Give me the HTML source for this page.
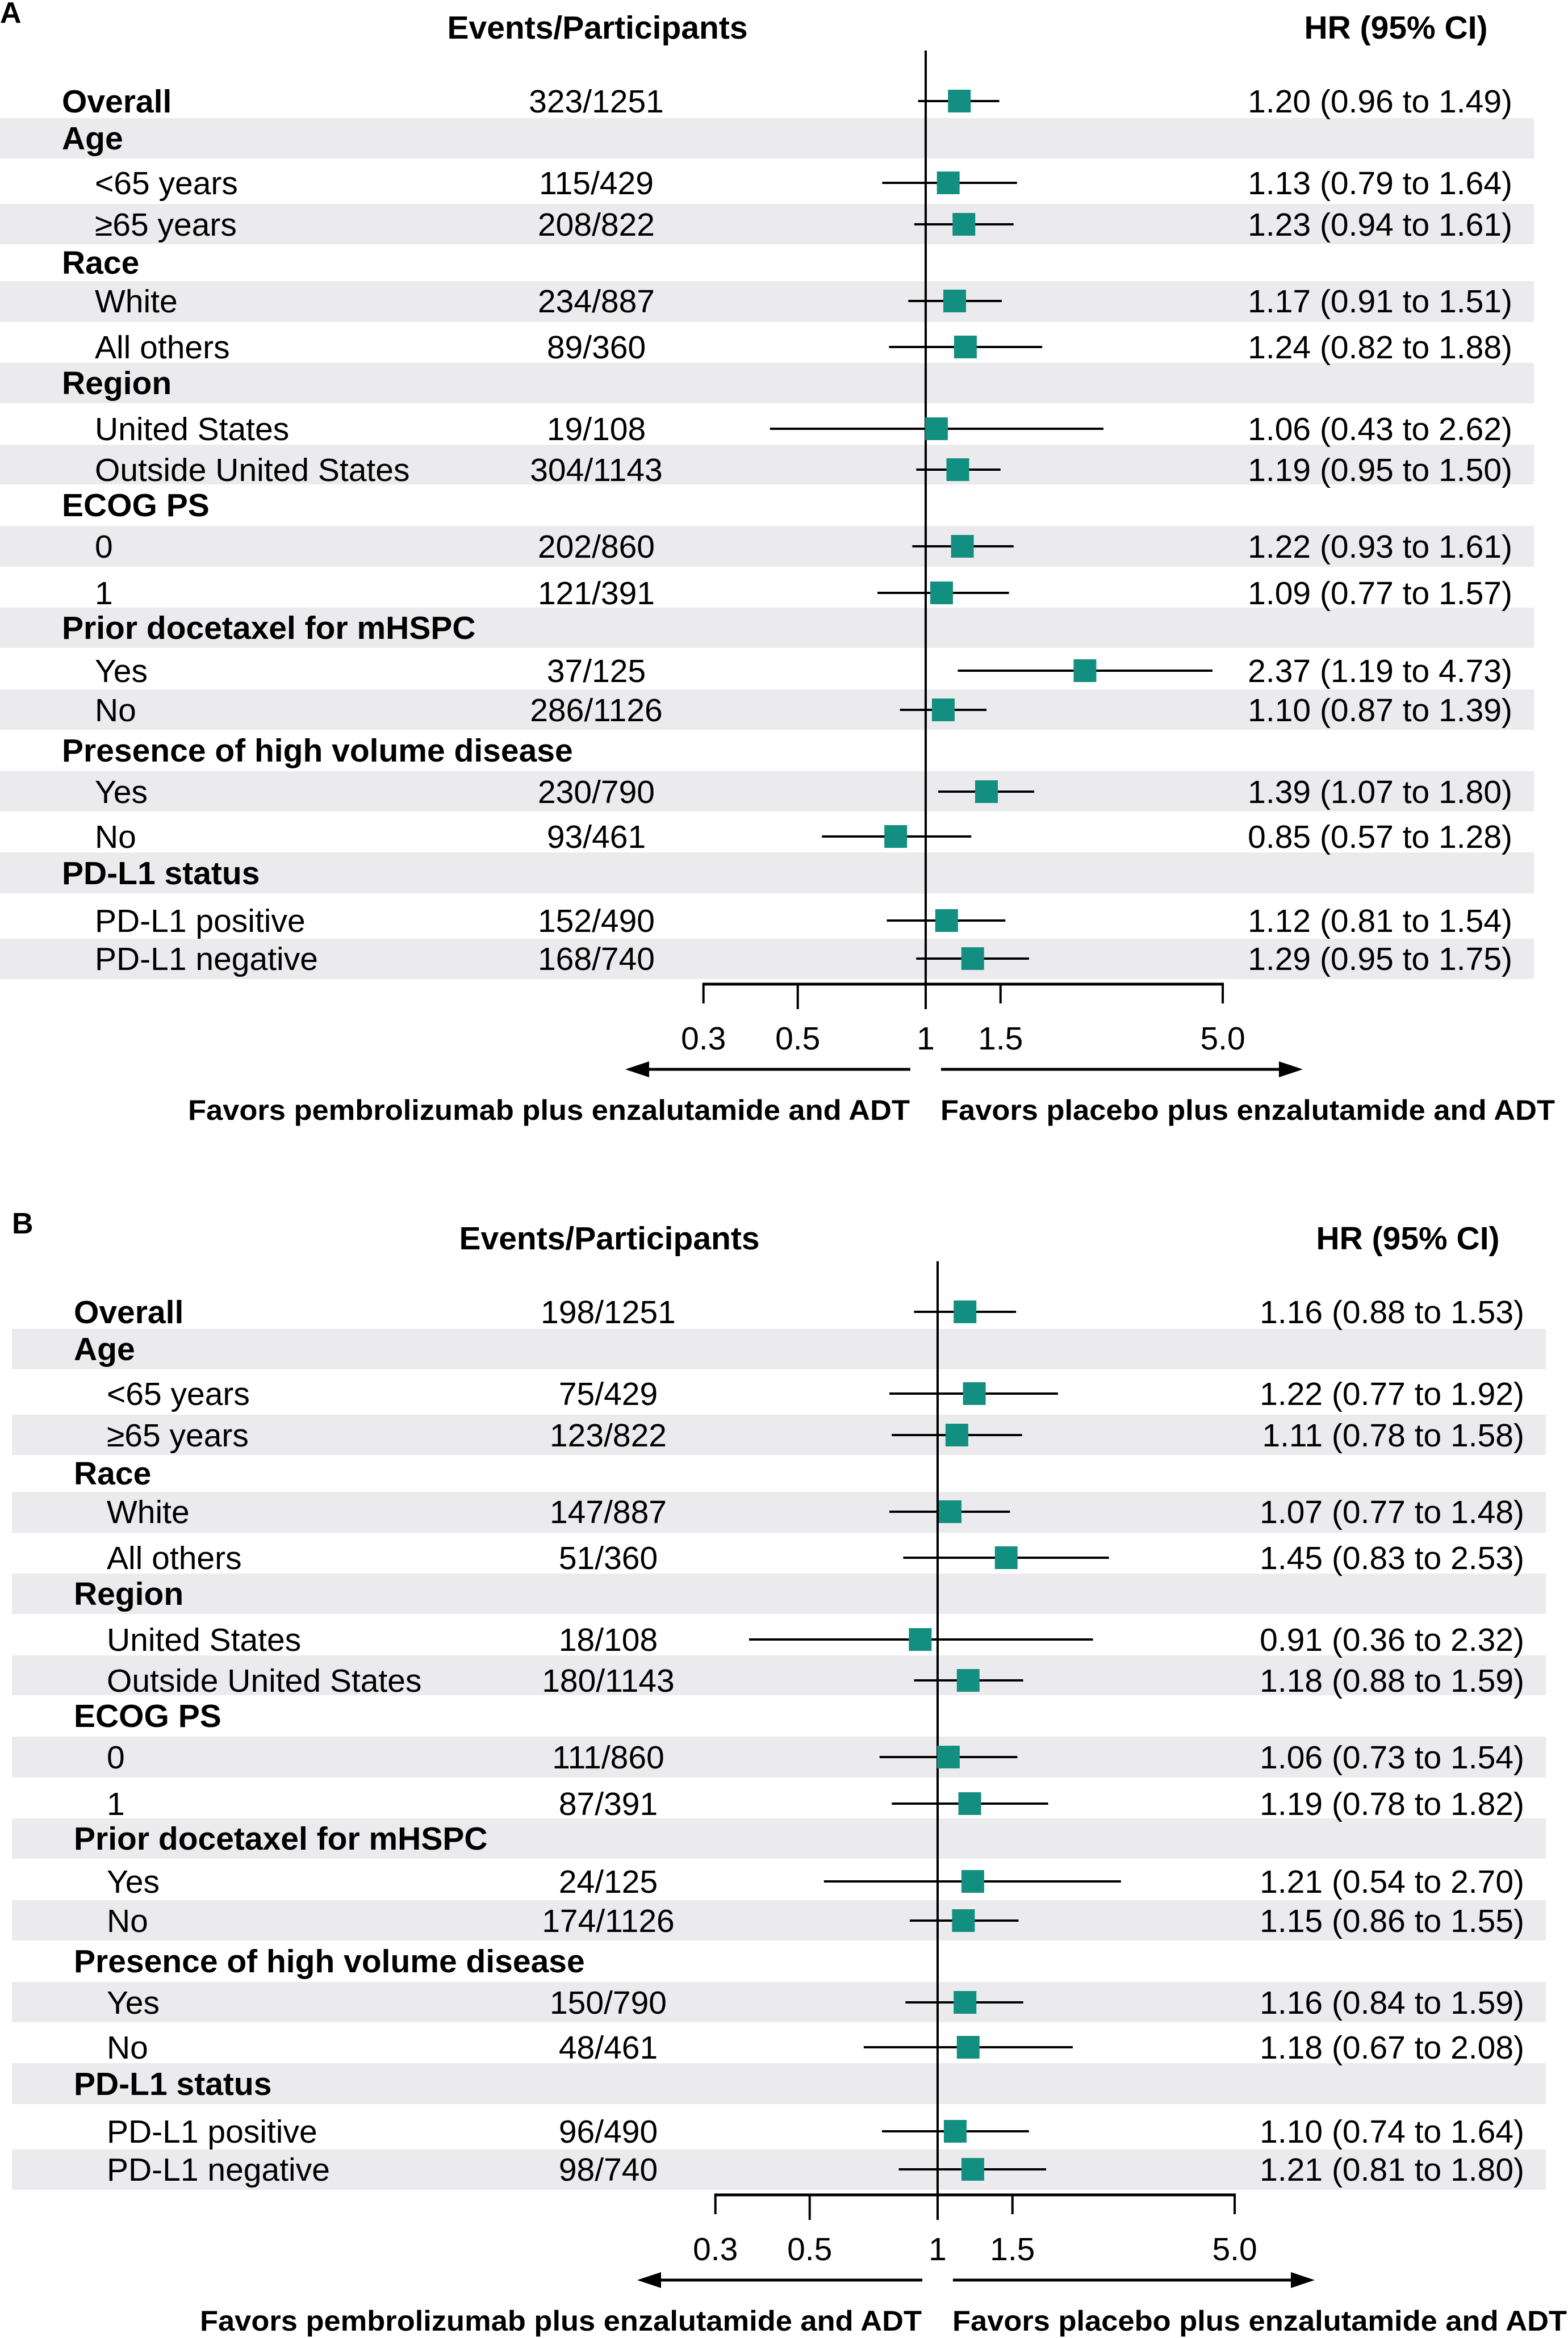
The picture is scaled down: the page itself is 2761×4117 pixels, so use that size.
<!DOCTYPE html>
<html><head><meta charset="utf-8"><style>
html,body{margin:0;padding:0;background:#fff;}
svg{display:block;font-family:"Liberation Sans",Arial,sans-serif;}
</style></head><body>
<svg id="fig" width="2761" height="4117" viewBox="0 0 2761 4117" xmlns="http://www.w3.org/2000/svg"></svg>
<script>
// ---- data ----
const rowLabels = ["Overall","Age","<65 years","\u226565 years","Race","White","All others","Region","United States","Outside United States","ECOG PS","0","1","Prior docetaxel for mHSPC","Yes","No","Presence of high volume disease","Yes","No","PD-L1 status","PD-L1 positive","PD-L1 negative"];
const rowIsHeader = [1,1,0,0,1,0,0,1,0,0,1,0,0,1,0,0,1,0,0,1,0,0];
const eventsA = ["323/1251","","115/429","208/822","","234/887","89/360","","19/108","304/1143","","202/860","121/391","","37/125","286/1126","","230/790","93/461","","152/490","168/740"];
const hrA = [1.20,null,1.13,1.23,null,1.17,1.24,null,1.06,1.19,null,1.22,1.09,null,2.37,1.10,null,1.39,0.85,null,1.12,1.29];
const loA = [0.96,null,0.79,0.94,null,0.91,0.82,null,0.43,0.95,null,0.93,0.77,null,1.19,0.87,null,1.07,0.57,null,0.81,0.95];
const hiA = [1.49,null,1.64,1.61,null,1.51,1.88,null,2.62,1.50,null,1.61,1.57,null,4.73,1.39,null,1.80,1.28,null,1.54,1.75];
const eventsB = ["198/1251","","75/429","123/822","","147/887","51/360","","18/108","180/1143","","111/860","87/391","","24/125","174/1126","","150/790","48/461","","96/490","98/740"];
const hrB = [1.16,null,1.22,1.11,null,1.07,1.45,null,0.91,1.18,null,1.06,1.19,null,1.21,1.15,null,1.16,1.18,null,1.10,1.21];
const loB = [0.88,null,0.77,0.78,null,0.77,0.83,null,0.36,0.88,null,0.73,0.78,null,0.54,0.86,null,0.84,0.67,null,0.74,0.81];
const hiB = [1.53,null,1.92,1.58,null,1.48,2.53,null,2.32,1.59,null,1.54,1.82,null,2.70,1.55,null,1.59,2.08,null,1.64,1.80];
const tickValues = [0.3,0.5,1,1.5,5.0];
const tickLabels = ["0.3","0.5","1","1.5","5.0"];

// ---- layout ----
const rowY = [178,243,322,395,462,530,611,674,755,827,889,962,1044,1105,1181,1250,1321,1394,1473,1537,1621,1688];
const bounds = [89,208,279,359,430,495,567,639,710,783,853,926,998,1070,1141,1214,1285,1358,1429,1501,1573,1653,1724];
const NS="http://www.w3.org/2000/svg";
const svg=document.getElementById('fig');
function mk(tag,attrs,parent){const e=document.createElementNS(NS,tag);for(const k in attrs)e.setAttribute(k,attrs[k]);(parent||svg).appendChild(e);return e;}
function fmt(v){return v.toFixed(2);}

function panel(letter,dx,dy,events,hr,lo,hi){
  const g=mk('g',{transform:`translate(${dx},${dy})`});
  
  
  const x1=1630, k=325;
  const xs=v=>x1+k*Math.log(v);
  // bands
  for(let i=1;i<rowY.length;i+=2){
    const r=mk('rect',{x:0,y:bounds[i],width:2701,height:bounds[i+1]-bounds[i],fill:'#ebebed'},g);
    
    
  }
  let t=mk('text',{x:0,y:40,'font-size':52,'font-weight':'bold'},g); t.textContent=letter;
  
  
  t=mk('text',{x:1052,y:68,'font-size':57,'font-weight':'bold','text-anchor':'middle'},g); t.textContent='Events/Participants';
  
  
  t=mk('text',{x:2458,y:68,'font-size':57,'font-weight':'bold','text-anchor':'middle'},g); t.textContent='HR (95% CI)';
  
  
  // reference line
  let l=mk('line',{x1:x1,x2:x1,y1:89,y2:1777,stroke:'#000','stroke-width':4},g);
  
  
  for(let i=0;i<rowLabels.length;i++){
    const y=rowY[i];
    t=mk('text',{x:rowIsHeader[i]?109:167,y:y+20,'font-size':57,'font-weight':rowIsHeader[i]?'bold':'normal'},g);
    t.textContent=rowLabels[i];
    
    
    if(events[i]){
      t=mk('text',{x:1050,y:y+20,'font-size':57,'text-anchor':'middle'},g); t.textContent=events[i];
      
      
    }
    if(hr[i]!=null){
      t=mk('text',{x:2663,y:y+20,'font-size':57,'text-anchor':'end'},g);
      t.textContent=`${fmt(hr[i])} (${fmt(lo[i])} to ${fmt(hi[i])})`;
      
      
      l=mk('line',{x1:xs(lo[i]),x2:xs(hi[i]),y1:y,y2:y,stroke:'#000','stroke-width':4},g);
      
      
      const r=mk('rect',{x:xs(hr[i])-20,y:y-20,width:40,height:40,fill:'#128f80'},g);
      
      
    }
  }
  // axis
  l=mk('line',{x1:xs(0.3)-2,x2:xs(5)+2,y1:1733,y2:1733,stroke:'#000','stroke-width':5},g);
  
  
  for(let i=0;i<tickValues.length;i++){
    const x=xs(tickValues[i]);
    l=mk('line',{x1:x,x2:x,y1:1733,y2:(i==0||i==4||i==3)?1767:1777,stroke:'#000','stroke-width':4},g);
    
    
    t=mk('text',{x:x,y:1848,'font-size':57,'text-anchor':'middle'},g); t.textContent=tickLabels[i];
    
    
  }
  // arrows
  l=mk('line',{x1:1603,x2:1130,y1:1883,y2:1883,stroke:'#000','stroke-width':5},g);
  
  
  let p=mk('polygon',{points:'1101,1883 1143,1869 1143,1897',fill:'#000'},g);
  
  
  l=mk('line',{x1:1657,x2:2265,y1:1883,y2:1883,stroke:'#000','stroke-width':5},g);
  
  
  p=mk('polygon',{points:'2294,1883 2252,1869 2252,1897',fill:'#000'},g);
  
  
  t=mk('text',{x:331,y:1972,'font-size':50,'font-weight':'bold',textLength:1271,lengthAdjust:'spacingAndGlyphs'},g);
  t.textContent='Favors pembrolizumab plus enzalutamide and ADT';
  
  
  t=mk('text',{x:1656,y:1972,'font-size':50,'font-weight':'bold',textLength:1082,lengthAdjust:'spacingAndGlyphs'},g);
  t.textContent='Favors placebo plus enzalutamide and ADT';
  
  
}
panel('A',0,0,eventsA,hrA,loA,hiA);
panel('B',21,2132,eventsB,hrB,loB,hiB);
</script>
</body></html>
